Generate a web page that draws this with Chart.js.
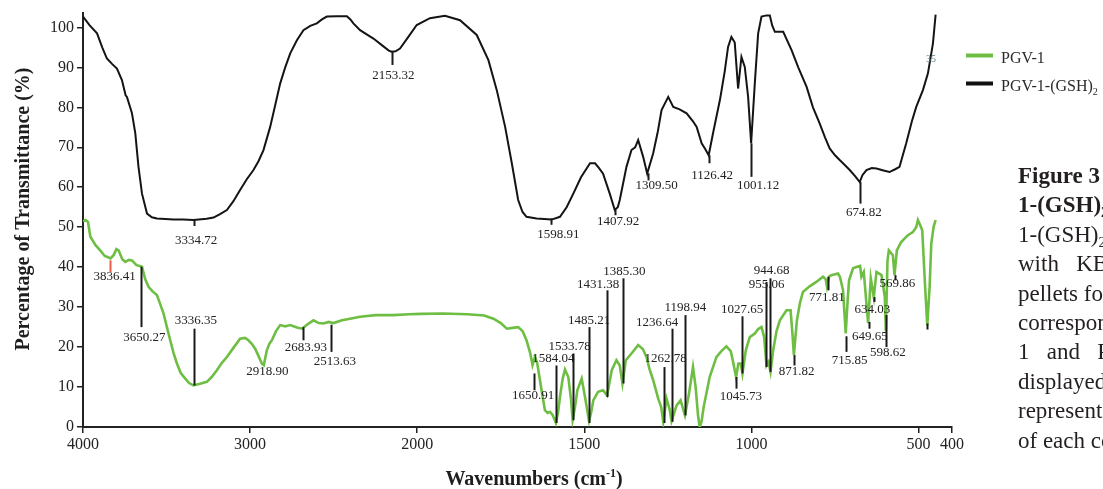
<!DOCTYPE html>
<html>
<head>
<meta charset="utf-8">
<script src="https://cdn.jsdelivr.net/npm/chart.js@4.4.1/dist/chart.umd.min.js"></script>
<style>
  html, body { margin: 0; padding: 0; background: #fff; }
  canvas { display: block; }
</style>
</head>
<body>
<canvas id="ftir" width="1103" height="489"></canvas>
<script>
// axis ticks (wavenumber axis changes scale at 2000 cm-1)
const xTicks = [4000, 3000, 2000, 1500, 1000, 500, 400];
const yTicks = [0, 10, 20, 30, 40, 50, 60, 70, 80, 90, 100];

// PGV-1-(GSH)2 : [wavenumber, %T]
const blackGSH = [
  [4000,102.7],[3960,100.5],[3916,98.5],[3885,95.0],[3857,92.2],[3825,90.8],[3797,89.7],[3767,86.8],
  [3745,83.0],[3737,82.6],[3707,78.5],[3687,73.5],[3668,65.1],[3647,58.4],[3617,53.4],[3588,52.5],
  [3558,52.2],[3458,51.9],[3400,51.9],[3339,51.8],[3260,52.1],[3219,52.4],[3180,53.3],[3139,54.3],
  [3100,56.5],[3060,59.3],[3020,62.0],[2980,64.3],[2950,66.5],[2920,69.3],[2880,75.1],[2850,80.5],
  [2820,86.0],[2790,90.0],[2760,93.5],[2720,96.8],[2681,99.3],[2640,100.4],[2601,101.0],[2570,102.0],
  [2541,102.7],[2480,102.8],[2421,102.8],[2400,102.0],[2382,101.0],[2342,99.3],[2300,98.2],[2262,97.2],
  [2210,95.5],[2170,94.2],[2153,93.9],[2130,94.0],[2103,94.7],[2050,97.8],[2003,100.6],[1962,102.3],
  [1917,102.9],[1872,101.8],[1822,98.1],[1787,91.8],[1762,84.3],[1737,75.1],[1717,66.0],[1698,56.8],
  [1685,53.8],[1673,52.6],[1643,52.2],[1598,51.9],[1573,52.6],[1553,55.0],[1533,58.4],[1510,62.5],
  [1483,66.0],[1468,66.0],[1456,64.8],[1444,63.4],[1424,58.4],[1409,54.3],[1400,55.0],[1394,56.8],
  [1374,65.1],[1359,69.3],[1348,70.0],[1339,71.8],[1324,67.6],[1312,63.4],[1294,68.5],[1280,74.0],
  [1269,79.3],[1249,82.6],[1234,80.1],[1215,79.5],[1194,78.5],[1175,76.5],[1164,75.1],[1149,71.0],
  [1138,69.5],[1128,68.0],[1115,73.5],[1094,82.0],[1080,89.0],[1070,95.1],[1060,97.6],[1050,96.2],
  [1040,84.7],[1030,92.6],[1020,90.1],[1010,82.6],[1001,71.0],[990,86.0],[980,98.5],[970,102.7],
  [955,103.0],[945,103.0],[938,100.5],[930,98.9],[905,98.9],[880,94.3],[860,90.0],[835,85.1],
  [816,80.0],[796,76.0],[780,72.5],[766,69.7],[750,68.0],[736,66.8],[720,65.5],[706,64.3],
  [690,62.8],[676,61.3],[668,63.0],[656,64.3],[640,64.8],[626,64.7],[605,64.2],[587,63.8],
  [570,64.5],[557,65.1],[537,71.0],[520,76.5],[507,80.1],[487,84.3],[472,88.5],[457,96.0],[449,103.2]
];

// PGV-1 : [wavenumber, %T]
const greenPGV1 = [
  [4000,51.5],[3985,51.8],[3970,51.3],[3956,47.6],[3925,45.5],[3897,44.2],[3870,42.8],[3857,42.6],
  [3835,42.2],[3817,43.0],[3800,44.5],[3787,44.2],[3765,42.0],[3747,41.3],[3725,41.8],[3707,41.7],
  [3680,40.5],[3660,40.3],[3647,40.1],[3628,37.0],[3608,35.1],[3585,34.0],[3558,33.0],[3540,31.0],
  [3518,28.4],[3498,25.0],[3478,21.7],[3458,18.5],[3438,15.9],[3415,13.5],[3388,12.1],[3365,11.0],
  [3339,10.4],[3300,10.8],[3259,11.3],[3230,12.5],[3199,14.2],[3170,16.0],[3139,17.5],[3100,19.8],
  [3060,22.1],[3030,22.3],[3010,21.7],[2990,20.8],[2970,19.6],[2950,17.8],[2930,15.9],[2918,15.5],
  [2900,19.2],[2885,20.8],[2870,21.7],[2845,24.0],[2820,25.5],[2790,25.2],[2760,25.5],[2720,24.9],
  [2690,24.6],[2660,25.6],[2621,26.7],[2590,26.0],[2561,25.9],[2530,26.3],[2502,26.0],[2450,26.7],
  [2402,27.1],[2342,27.6],[2250,28.0],[2143,28.0],[2050,28.2],[1990,28.3],[1922,28.4],[1850,28.2],
  [1800,27.9],[1772,27.1],[1750,26.0],[1732,24.6],[1715,24.8],[1698,25.0],[1685,24.0],[1673,21.7],
  [1662,18.5],[1655,15.5],[1648,17.5],[1641,16.0],[1628,9.2],[1618,4.2],[1610,3.5],[1603,3.8],
  [1595,3.0],[1585,1.0],[1578,4.0],[1573,7.5],[1565,12.0],[1558,14.4],[1548,12.5],[1540,7.0],
  [1535,1.8],[1528,5.0],[1521,9.2],[1508,12.1],[1498,7.5],[1486,1.5],[1480,3.5],[1473,6.7],
  [1459,8.8],[1444,9.2],[1432,7.9],[1425,11.0],[1418,14.2],[1404,16.7],[1394,15.4],[1386,10.9],
  [1376,16.7],[1359,18.4],[1339,20.5],[1325,19.5],[1314,17.5],[1305,14.5],[1294,11.7],[1279,7.1],
  [1270,5.0],[1264,1.3],[1254,7.1],[1245,4.5],[1239,1.5],[1224,5.4],[1212,6.7],[1199,2.9],
  [1187,8.3],[1175,15.0],[1167,10.0],[1160,3.0],[1155,0.0],[1149,1.5],[1143,5.0],[1125,12.5],
  [1105,17.5],[1090,19.0],[1075,20.2],[1062,19.0],[1055,16.3],[1046,12.5],[1039,15.9],[1032,15.9],
  [1027,13.4],[1017,19.2],[1005,22.5],[990,23.4],[980,24.5],[970,25.0],[962,22.5],[955,15.4],
  [949,16.3],[943,13.8],[935,19.2],[925,24.0],[915,26.7],[895,29.2],[883,29.2],[878,24.0],
  [873,18.0],[869,22.0],[864,26.7],[855,31.0],[846,33.8],[826,35.2],[806,36.3],[786,37.6],
  [778,37.0],[774,35.1],[768,37.6],[761,38.0],[741,38.4],[735,37.5],[726,34.2],[718,23.4],
  [712,32.0],[708,36.7],[696,39.7],[684,40.1],[675,40.3],[671,37.6],[664,38.8],[651,26.0],
  [643,37.2],[634,32.5],[626,38.8],[611,38.0],[601,32.5],[598,24.0],[593,41.7],[589,44.2],
  [577,43.0],[572,38.0],[565,44.2],[552,46.3],[532,48.0],[517,48.8],[507,50.0],[502,51.8],
  [495,50.5],[489,49.2],[481,36.0],[474,25.4],[467,35.0],[462,45.9],[455,50.1],[449,51.8]
];

// peak labels
const peaksGSH = [3334.72, 2153.32, 1598.91, 1407.92, 1309.50, 1126.42, 1001.12, 674.82];
const peaksPGV1 = [3836.41, 3650.27, 3336.35, 2918.90, 2683.93, 2513.63, 1650.91, 1584.04, 1533.78,
  1485.21, 1431.38, 1385.30, 1262.78, 1236.64, 1198.94, 1045.73, 1027.65, 955.06, 944.68, 871.82,
  771.81, 715.85, 649.65, 634.03, 598.62, 569.86];

// marker layout for each peak: [line top %T, line bottom %T, label wavenumber, label %T]
const marksGSH = [
  [52, 50.3, 3323, 46.7], [93.9, 90.6, 2143, 87.9], [52.2, 50.6, 1578, 48.1], [54.3, 53, 1399, 51.3],
  [63.5, 61.7, 1284, 60.5], [68, 66, 1118, 62.8], [71, 62.6, 980, 60.5], [61.3, 55.9, 664, 53.7]
];
const marksPGV1 = [
  [41.7, 38.8, 3811, 37.6], [40.1, 25.0, 3632, 22.5], [24.6, 10.4, 3324, 26.7], [null, null, 2896, 13.8],
  [25.0, 21.7, 2667, 19.9], [25.6, 18.8, 2493, 16.3], [13.4, 9.2, 1653, 7.8], [15.4, 1.0, 1593, 17.1],
  [18.4, 1.7, 1544, 20.0], [25.0, 1.0, 1486, 26.7], [34.2, 7.5, 1459, 35.6], [37.2, 10.9, 1380, 39.0],
  [15.0, 1.0, 1257, 17.1], [24.6, 1.3, 1282, 26.1], [28.0, 2.9, 1198, 30.0], [12.5, 9.6, 1032, 7.7],
  [27.7, 13.4, 1028, 29.5], [36.3, 15.0, 955, 35.6], [37.2, 13.8, 940, 39.1], [18.0, 15.4, 865, 13.8],
  [37.6, 34.2, 774, 32.5], [22.7, 18.8, 706, 16.7], [26.3, 24.6, 646, 22.7], [32.5, 31.3, 638, 29.5],
  [28.0, 20.0, 592, 18.5], [38.0, 36.7, 563.5, 35.9]
];
const redMarked = [3836.41];
const bareTicks = [[475, 25.9, 24.4]];

const serif = '"Liberation Serif", "Times New Roman", serif';

// wavenumber axis: 4000-2000 compressed to half the scale of 2000-400
class BrokenScale extends Chart.LinearScale {
  toU(v) { return v >= 2000 ? (4000 - v) / 2 : 1000 + (2000 - v); }
  fromU(u) { return u <= 1000 ? 4000 - 2 * u : 3000 - u; }
  buildTicks() { return xTicks.map(v => ({ value: v })); }
  getPixelForValue(value) { return this.getPixelForDecimal(this.toU(value) / 2600); }
  getValueForPixel(pixel) { return this.fromU(this.getDecimalForPixel(pixel) * 2600); }
}
BrokenScale.id = 'broken';
BrokenScale.defaults = { ticks: { callback: v => String(v) } };
Chart.register(BrokenScale);

function drawParts(ctx, parts, x, y, size, weight) {
  // parts: [text, 'sub' | 'sup' | undefined]
  let cx = x;
  parts.forEach(([t, kind]) => {
    const s = kind ? Math.round(size * 0.62) : size;
    ctx.font = weight + ' ' + s + 'px ' + serif;
    const dy = kind === 'sub' ? size * 0.22 : kind === 'sup' ? -size * 0.38 : 0;
    ctx.fillText(t, cx, y + dy);
    cx += ctx.measureText(t).width;
  });
  return cx - x;
}

const peakPlugin = {
  id: 'peaks',
  afterDatasetsDraw(chart) {
    const { ctx, scales: { x, y } } = chart;
    ctx.save();
    ctx.lineWidth = 2;
    ctx.lineCap = 'butt';
    ctx.font = '13px ' + serif;
    ctx.textAlign = 'center';
    ctx.textBaseline = 'middle';
    const draw = (waves, marks) => waves.forEach((w, i) => {
      const [top, bottom, lw, lv] = marks[i];
      if (top !== null) {
        const px = Math.round(x.getPixelForValue(w)) + 0.5;
        ctx.strokeStyle = redMarked.includes(w) ? '#ef5a4c' : '#1a1a1a';
        ctx.beginPath();
        ctx.moveTo(px, y.getPixelForValue(top));
        ctx.lineTo(px, y.getPixelForValue(bottom));
        ctx.stroke();
      }
      ctx.fillStyle = '#222';
      ctx.fillText(w.toFixed(2), x.getPixelForValue(lw), y.getPixelForValue(lv));
    });
    draw(peaksGSH, marksGSH);
    draw(peaksPGV1, marksPGV1);
    ctx.strokeStyle = '#1a1a1a';
    bareTicks.forEach(([w, a, b]) => {
      const px = Math.round(x.getPixelForValue(w)) + 0.5;
      ctx.beginPath();
      ctx.moveTo(px, y.getPixelForValue(a));
      ctx.lineTo(px, y.getPixelForValue(b));
      ctx.stroke();
    });
    // stray mark near the top right of the black trace
    ctx.fillStyle = '#5d7f8f';
    ctx.font = '10px ' + serif;
    ctx.fillText('35', x.getPixelForValue(463), y.getPixelForValue(92));
    ctx.restore();
  },
  afterDraw(chart) {
    const { ctx } = chart;
    ctx.save();
    ctx.fillStyle = '#1e1e1e';
    ctx.textBaseline = 'alphabetic';
    ctx.textAlign = 'left';

    // axis titles
    ctx.save();
    ctx.translate(24, 209);
    ctx.rotate(-Math.PI / 2);
    ctx.textAlign = 'center';
    ctx.textBaseline = 'middle';
    ctx.font = 'bold 20px ' + serif;
    ctx.fillText('Percentage of Transmittance (%)', 0, 0);
    ctx.restore();

    const xt = [['Wavenumbers (cm'], ['-1', 'sup'], [')']];
    ctx.globalAlpha = 0;
    const wTitle = drawParts(ctx, xt, 0, -100, 20, 'bold');
    ctx.globalAlpha = 1;
    drawParts(ctx, xt, 534 - wTitle / 2, 485, 20, 'bold');

    // legend
    ctx.lineWidth = 4;
    ctx.strokeStyle = '#6fbe44';
    ctx.beginPath(); ctx.moveTo(966, 55.5); ctx.lineTo(993, 55.5); ctx.stroke();
    ctx.strokeStyle = '#111';
    ctx.beginPath(); ctx.moveTo(966, 83.5); ctx.lineTo(993, 83.5); ctx.stroke();
    ctx.fillStyle = '#2a2a2a';
    drawParts(ctx, [['PGV-1']], 1001, 63, 16, 'normal');
    drawParts(ctx, [['PGV-1-(GSH)'], ['2', 'sub']], 1001, 91, 16, 'normal');

    // figure caption, cut by the page edge
    ctx.fillStyle = '#231f20';
    const cap = [
      [[['Figure 3  FTIR spectra of PGV-1 and PGV-']], 'bold'],
      [[['1-(GSH)'], ['2', 'sub'], ['.']], 'bold'],
      [[['1-(GSH)'], ['2', 'sub'], [' were recorded']], 'normal'],
      [[['with   KBr']], 'normal'],
      [[['pellets for']], 'normal'],
      [[['corresponding']], 'normal'],
      [[['1   and   PGV']], 'normal'],
      [[['displayed']], 'normal'],
      [[['represent']], 'normal'],
      [[['of each compound']], 'normal']
    ];
    cap.forEach(([parts, weight], i) => {
      drawParts(ctx, parts, 1018, 183 + i * 29.4, 23, weight);
    });
    ctx.restore();
  }
};

const ctx = document.getElementById('ftir').getContext('2d');
new Chart(ctx, {
  type: 'line',
  data: {
    datasets: [
      {
        label: 'PGV-1-(GSH)2',
        data: blackGSH.map(([x, y]) => ({ x, y })),
        borderColor: '#141414',
        borderWidth: 2,
        pointRadius: 0,
        tension: 0,
        fill: false
      },
      {
        label: 'PGV-1',
        data: greenPGV1.map(([x, y]) => ({ x, y })),
        borderColor: '#6fbe44',
        borderWidth: 2.6,
        pointRadius: 0,
        tension: 0,
        fill: false
      }
    ]
  },
  options: {
    responsive: false,
    animation: false,
    layout: { padding: { left: 0, top: 13, right: 151, bottom: 0 } },
    plugins: { legend: { display: false }, tooltip: { enabled: false } },
    scales: {
      x: {
        type: 'broken',
        min: 400,
        max: 4000,
        afterFit: s => { s.height = 62; },
        border: { display: true, color: '#222', width: 2 },
        grid: { display: true, drawOnChartArea: false, drawTicks: true, tickLength: 6, color: '#222', lineWidth: 1.5 },
        ticks: {
          autoSkip: false, maxRotation: 0, padding: 2, color: '#222',
          font: { family: serif, size: 16 },
          callback: v => String(v)
        }
      },
      y: {
        type: 'linear',
        min: 0,
        max: 103.6,
        afterBuildTicks: s => { s.ticks = yTicks.map(v => ({ value: v })); },
        afterFit: s => { s.width = 83; },
        border: { display: true, color: '#222', width: 2 },
        grid: { display: true, drawOnChartArea: false, drawTicks: true, tickLength: 6, color: '#222', lineWidth: 1.5 },
        ticks: {
          padding: 3, color: '#222',
          font: { family: serif, size: 16 },
          callback: v => String(v)
        }
      }
    }
  },
  plugins: [peakPlugin]
});
</script>
</body>
</html>
